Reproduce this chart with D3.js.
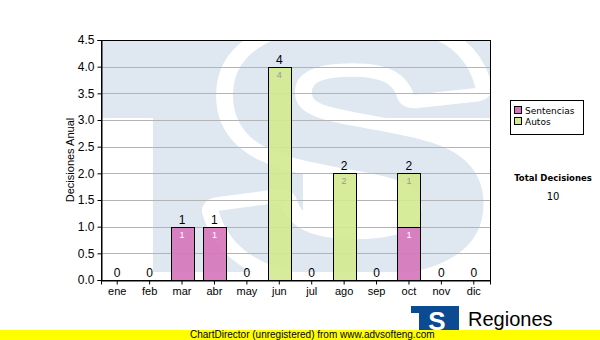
<!DOCTYPE html>
<html>
<head>
<meta charset="utf-8">
<script src="https://cdn.jsdelivr.net/npm/d3@7"></script>
<style>
body{margin:0;background:#fff;}
svg{display:block;font-family:"Liberation Sans",Arial,sans-serif;}
</style>
</head>
<body>
<svg id="chart" width="600" height="340"></svg>
<script>
// data
var months=["ene","feb","mar","abr","may","jun","jul","ago","sep","oct","nov","dic"];
var sentencias=[0,0,1,1,0,0,0,0,0,1,0,0];
var autos=[0,0,0,0,0,4,0,2,0,1,0,0];
var seriesNames=["Sentencias","Autos"];
var seriesColors=["#d674ba","#d3ea8f"];
var yTicks=[0,0.5,1,1.5,2,2.5,3,3.5,4,4.5];
var yTitle="Decisiones Anual";
var totalLabel="Total Decisiones";
var totalValue=d3.sum(sentencias)+d3.sum(autos);

var margin={left:101, right:490, top:40, bottom:280};
var svg=d3.select("#chart");

var x=d3.scaleBand().domain(months).range([margin.left,margin.right]);
var y=d3.scaleLinear().domain([0,4.5]).range([margin.bottom,margin.top]);
var barW=23;

// clip for watermark
svg.append("clipPath").attr("id","pclip")
  .append("rect").attr("x",margin.left).attr("y",margin.top)
  .attr("width",margin.right-margin.left).attr("height",margin.bottom-margin.top);

// watermark "TS" logo, light blue
var wm=svg.append("g").attr("clip-path","url(#pclip)");
var wblue="#dfe8f1";
wm.append("rect").attr("x",101).attr("y",40).attr("width",389).attr("height",78).attr("fill",wblue);
wm.append("rect").attr("x",153).attr("y",110).attr("width",150).attr("height",162).attr("fill",wblue);
wm.append("text").text("S")
  .attr("transform","translate(206,274) scale(1.3,1.04)")
  .attr("font-family","Liberation Sans")
  .attr("font-weight","bold")
  .attr("font-size",340)
  .attr("fill",wblue)
  .attr("stroke","#fff")
  .attr("stroke-width",26)
  .attr("stroke-linejoin","round")
  .style("paint-order","stroke");
wm.append("rect").attr("x",101).attr("y",272).attr("width",389).attr("height",8).attr("fill","#fff");

// grid lines
svg.append("g").selectAll("line").data(yTicks.filter(function(d){return d>0 && d<4.5;}))
  .enter().append("line")
  .attr("x1",margin.left).attr("x2",margin.right)
  .attr("y1",function(d){return Math.round(y(d))+0.5;})
  .attr("y2",function(d){return Math.round(y(d))+0.5;})
  .attr("stroke","#b4b4b4").attr("stroke-width",1);

// stacked bars
var stacked=months.map(function(m,i){return {m:m, s:sentencias[i], a:autos[i]};});
var stack=d3.stack().keys(["s","a"])(stacked);
var bars=svg.append("g");
stack.forEach(function(layer,k){
  bars.selectAll(".b"+k).data(layer.filter(function(d){return d[1]-d[0]>0;}))
    .enter().append("rect")
    .attr("x",function(d){return Math.round(x(d.data.m)+x.bandwidth()/2-barW/2)+0.5;})
    .attr("y",function(d){return Math.round(y(d[1]))+0.5;})
    .attr("width",barW)
    .attr("height",function(d){return Math.round(y(d[0]))-Math.round(y(d[1]));})
    .attr("fill",seriesColors[k]).attr("fill-opacity",0.9)
    .attr("stroke","#000").attr("stroke-width",1);
  bars.selectAll(".l"+k).data(layer.filter(function(d){return d[1]-d[0]>0;}))
    .enter().append("text")
    .attr("x",function(d){return x(d.data.m)+x.bandwidth()/2;})
    .attr("y",function(d){return y(d[1])+11;})
    .attr("text-anchor","middle")
    .attr("font-size",9)
    .attr("fill",k==0?"#fff":"#999")
    .text(function(d){return d[1]-d[0];});
});

// totals above bars
svg.append("g").selectAll("text").data(stacked).enter().append("text")
  .attr("x",function(d){return x(d.m)+x.bandwidth()/2;})
  .attr("y",function(d){return y(d.s+d.a)-3;})
  .attr("text-anchor","middle")
  .attr("font-size",12)
  .attr("fill","#000")
  .text(function(d){return d.s+d.a;});

// plot border
svg.append("rect").attr("x",margin.left+0.5).attr("y",margin.top+0.5)
  .attr("width",margin.right-margin.left).attr("height",margin.bottom-margin.top)
  .attr("fill","none").attr("stroke","#000").attr("stroke-width",1);

// axes
var yAxis=svg.append("g").attr("transform","translate("+(margin.left+0.5)+",0)")
  .call(d3.axisLeft(y).tickValues(yTicks).tickFormat(d3.format(".1f")).tickSize(4).tickPadding(3));
var xAxis=svg.append("g").attr("transform","translate(0,"+(margin.bottom+0.5)+")")
  .call(d3.axisBottom(x).tickSize(4).tickPadding(3));
[yAxis,xAxis].forEach(function(a){
  a.select(".domain").attr("stroke","#000");
  a.selectAll(".tick line").attr("stroke","#000");
  a.selectAll("text").attr("font-size",12).attr("font-family","Liberation Sans").attr("fill","#000");
});
xAxis.selectAll("text").attr("font-size",11);

// y title
svg.append("text")
  .attr("transform","translate(74,160) rotate(-90)")
  .attr("text-anchor","middle")
  .attr("font-size",11)
  .text(yTitle);

// legend
var lg=svg.append("g").attr("font-family","DejaVu Sans").attr("font-size",9);
lg.append("rect").attr("x",510.5).attr("y",100.5).attr("width",73).attr("height",34)
  .attr("fill","#fff").attr("stroke","#000");
seriesNames.forEach(function(n,i){
  lg.append("rect").attr("x",514.5).attr("y",106.5+i*11).attr("width",7).attr("height",7)
    .attr("fill",seriesColors[i]).attr("stroke","#000");
  lg.append("text").attr("x",525).attr("y",114+i*11).text(n);
});

// total decisiones
svg.append("text").attr("x",553).attr("y",181).attr("text-anchor","middle")
  .attr("font-family","DejaVu Sans").attr("font-weight","bold").attr("font-size",8.5)
  .text(totalLabel);
svg.append("text").attr("x",553).attr("y",200).attr("text-anchor","middle")
  .attr("font-family","DejaVu Sans").attr("font-size",10)
  .text(totalValue);

// logo
var lo=svg.append("g");
lo.append("rect").attr("x",411).attr("y",306).attr("width",48).attr("height",25).attr("fill","#0c4a92");
lo.append("rect").attr("x",411).attr("y",313).attr("width",8).attr("height",18).attr("fill","#fff");
lo.append("text").attr("x",437).attr("y",330).attr("text-anchor","middle")
  .attr("font-weight","bold").attr("font-size",26).attr("fill","#fff").text("S");
lo.append("text").attr("x",468).attr("y",326).attr("font-size",20).attr("fill","#000").text("Regiones");
lo.append("text").attr("x",467).attr("y",337).attr("font-size",9).attr("fill","#000").text("Tribunal Supremo de Justicia");

// unregistered banner
svg.append("rect").attr("x",0).attr("y",330).attr("width",600).attr("height",10).attr("fill","#ffff00");
svg.append("text").attr("x",190).attr("y",338).attr("font-size",10).attr("fill","#000")
  .text("ChartDirector (unregistered) from www.advsofteng.com");
</script>
</body>
</html>
